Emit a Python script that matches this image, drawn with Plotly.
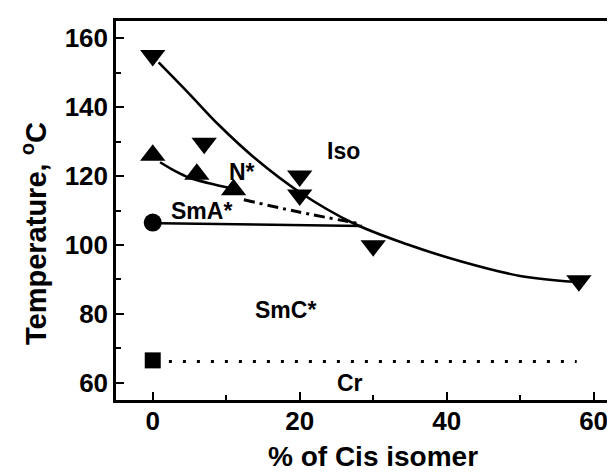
import plotly.graph_objects as go

# Data
iso_x = [0, 7, 20, 20, 30, 58]
iso_y = [155, 129.5, 120, 114.5, 99.8, 89.6]

nstar_x = [0, 6, 11]
nstar_y = [126, 120.5, 116]

sma_x = [0]
sma_y = [106.5]

cr_x = [0]
cr_y = [66.5]

# Guide curves
iso_curve_x = [0.8, 5, 9, 14, 20, 27.3, 34.6, 42, 50, 57.3]
iso_curve_y = [153, 143.8, 134.8, 125, 115.3, 106.3, 100.2, 95.2, 91.0, 89.3]

n_curve_x = [1, 3, 5, 7.5, 11]
n_curve_y = [124, 121.5, 119.5, 118, 116.3]

na_curve_x = [12.4, 19.6, 27.8]
na_curve_y = [113.1, 109.7, 106.3]

ac_line_x = [1, 28.5]
ac_line_y = [106.3, 105.5]

cr_line_x = [2.2, 57.7]
cr_line_y = [66.2, 66.2]

labels = ["Iso", "N*", "SmA*", "SmC*", "Cr"]
labels_x = [26.0, 12.2, 6.7, 18.1, 26.9]
labels_y = [127.4, 121.2, 110, 81, 60]

x_ticks = [0, 20, 40, 60]
y_ticks = [60, 80, 100, 120, 140, 160]

FONT = "Liberation Sans, Arial"
fig = go.Figure()

LW = 2.6
fig.add_trace(go.Scatter(x=iso_curve_x, y=iso_curve_y, mode="lines",
                         line=dict(color="black", width=LW, shape="spline"),
                         showlegend=False, hoverinfo="skip"))
fig.add_trace(go.Scatter(x=n_curve_x, y=n_curve_y, mode="lines",
                         line=dict(color="black", width=LW, shape="spline"),
                         showlegend=False, hoverinfo="skip"))
fig.add_trace(go.Scatter(x=na_curve_x, y=na_curve_y, mode="lines",
                         line=dict(color="black", width=3, shape="spline",
                                   dash="11px,5px,3px,5px"),
                         showlegend=False, hoverinfo="skip"))
fig.add_trace(go.Scatter(x=ac_line_x, y=ac_line_y, mode="lines",
                         line=dict(color="black", width=LW),
                         showlegend=False, hoverinfo="skip"))
fig.add_trace(go.Scatter(x=cr_line_x, y=cr_line_y, mode="lines",
                         line=dict(color="black", width=3, dash="3px,11px"),
                         showlegend=False, hoverinfo="skip"))

fig.add_trace(go.Scatter(x=iso_x, y=iso_y, mode="markers",
                         marker=dict(symbol="triangle-down", size=22, color="black"),
                         showlegend=False))
fig.add_trace(go.Scatter(x=nstar_x, y=nstar_y, mode="markers",
                         marker=dict(symbol="triangle-up", size=22, color="black"),
                         showlegend=False))
fig.add_trace(go.Scatter(x=sma_x, y=sma_y, mode="markers",
                         marker=dict(symbol="circle", size=18, color="black"),
                         showlegend=False))
fig.add_trace(go.Scatter(x=cr_x, y=cr_y, mode="markers",
                         marker=dict(symbol="square", size=16, color="black"),
                         showlegend=False))

for t, lx, ly in zip(labels, labels_x, labels_y):
    fig.add_annotation(x=lx, y=ly, text=f"<b>{t}</b>", showarrow=False,
                       font=dict(family=FONT, size=23, color="black"),
                       xanchor="center", yanchor="middle")

# Axis titles as annotations (paper coords; plot area spans x 108..615 px, y 13..392 px)
fig.add_annotation(xref="paper", yref="paper", x=(365 - 108) / 507, y=(392 - 448) / 379,
                   text="<b>% of Cis isomer</b>", showarrow=False,
                   font=dict(family=FONT, size=28, color="black"),
                   xanchor="center", yanchor="middle", borderpad=0)
fig.add_annotation(xref="paper", yref="paper", x=(26 - 108) / 507, y=(392 - 226) / 379,
                   text="<b>Temperature, <sup>o</sup>C</b>", showarrow=False, textangle=-90,
                   font=dict(family=FONT, size=29, color="black"),
                   xanchor="center", yanchor="middle")

fig.update_layout(
    width=615, height=473,
    margin=dict(l=108, r=0, t=13, b=81, autoexpand=False),
    paper_bgcolor="white", plot_bgcolor="white",
    font=dict(family=FONT, color="black"),
    xaxis=dict(
        range=[-5, 64], tickvals=x_ticks,
        ticktext=[f"<b>{v}</b>" for v in x_ticks],
        ticks="inside", ticklen=8, tickwidth=2, tickcolor="black",
        minor=dict(ticks="inside", ticklen=5, tickwidth=2, tickcolor="black", dtick=10, tick0=0),
        showline=True, linewidth=2.5, linecolor="black", mirror=True,
        showgrid=False, zeroline=False,
        tickfont=dict(family=FONT, size=26, color="black"),
        ticklabelstandoff=-4,
    ),
    yaxis=dict(
        range=[55, 165], tickvals=y_ticks,
        ticktext=[f"<b>{v}</b>" for v in y_ticks],
        ticks="inside", ticklen=8, tickwidth=2, tickcolor="black",
        minor=dict(ticks="inside", ticklen=5, tickwidth=2, tickcolor="black", dtick=10, tick0=0),
        showline=True, linewidth=2.5, linecolor="black", mirror=False,
        showgrid=False, zeroline=False,
        tickfont=dict(family=FONT, size=26, color="black"),
        ticklabelstandoff=0,
    ),
)

fig.write_html("out.html")
